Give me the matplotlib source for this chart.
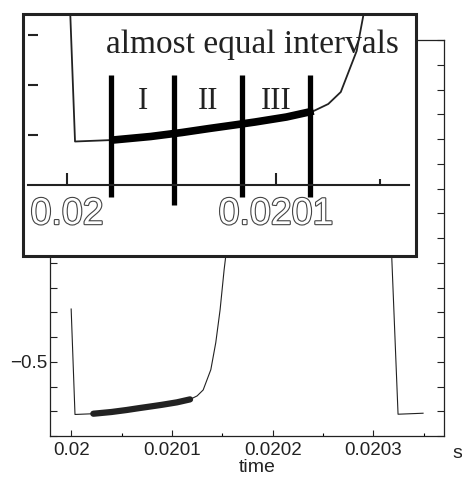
import matplotlib
matplotlib.use("Agg")
import matplotlib.pyplot as plt
import matplotlib.patheffects as pe
import numpy as np
from matplotlib.patches import Rectangle
from matplotlib.ticker import FixedLocator, FuncFormatter

_SANS = ['Liberation Sans', 'DejaVu Sans']
_SERIF = ['Liberation Serif', 'DejaVu Serif']
_INK = '#222222'

# signal (time in s)
time = [0.02, 0.0200038, 0.020022, 0.020040, 0.020055, 0.020068, 0.020080,
        0.020090, 0.020105, 0.020118, 0.020125, 0.020131, 0.0201386,
        0.0201435, 0.0201478, 0.0201518, 0.0201534, 0.020156, 0.020160,
        0.020170, 0.020200, 0.020250, 0.020300, 0.020310, 0.0203244,
        0.0203492]
signal = [-0.287, -0.713, -0.710, -0.703, -0.695, -0.687, -0.680,
          -0.674, -0.664, -0.652, -0.638, -0.614, -0.532,
          -0.423, -0.290, -0.128, -0.074, 0.25, 0.55,
          0.70, 0.73, 0.74, 0.75, 0.75, -0.712,
          -0.708]

# highlighted stretch and its three intervals
thick_start, thick_end = 0.020022, 0.020118
interval_edges = [0.020021, 0.0200512, 0.0200837, 0.0201163]
edge_bottoms = [-0.824, -0.840, -0.824, -0.824]
edge_top = -0.58
interval_names = ['I', 'II', 'III']

main_xticks = [0.02, 0.0201, 0.0202, 0.0203]
main_xticklabels = ['0.02', '0.0201', '0.0202', '0.0203']
inset_xticks = [0.02, 0.0201]
inset_xticklabels = ['0.02', '0.0201']

t = np.array(time)
v = np.array(signal)
mask = (t >= thick_start) & (t <= thick_end)

fig = plt.figure(figsize=(4.62, 4.82), dpi=100)

# main plot
ax = fig.add_axes([50 / 462, 1 - 436 / 482, 394 / 462, 396 / 482])
ax.plot(t, v, color=_INK, lw=0.8)
ax.plot(t[mask], v[mask], color=_INK, lw=4.5, solid_capstyle='round')
ax.set_xlim(0.019979, 0.02037)
ax.set_ylim(-0.8, 0.8)

ax.xaxis.set_major_locator(FixedLocator(main_xticks))
ax.set_xticklabels(main_xticklabels, family=_SANS)
ax.xaxis.set_minor_locator(FixedLocator(np.arange(0.02005, 0.02037, 0.0001)))
ax.yaxis.set_major_locator(FixedLocator(np.round(np.arange(-0.8, 0.81, 0.1), 1)))
ax.yaxis.set_major_formatter(FuncFormatter(
    lambda y, pos: ("%g" % y).replace('-', '\u2212') if abs(y * 2 - round(y * 2)) < 1e-6 else ''))
for lab in ax.get_yticklabels():
    lab.set_family(_SANS)
ax.tick_params(axis='x', which='major', direction='in', length=4.5, width=0.8,
               pad=4, colors=_INK, labelsize=13.5)
ax.tick_params(axis='x', which='minor', direction='in', length=2.2, width=0.8)
ax.tick_params(axis='y', direction='in', length=5, width=0.8, right=True,
               pad=2, colors=_INK, labelsize=13.5)
for s in ax.spines.values():
    s.set_linewidth(0.9)
    s.set_color(_INK)

fig.text(257 / 462, 1 - 467 / 482, 'time', ha='center', va='center',
         family=_SANS, fontsize=14, color=_INK)
fig.text(457 / 462, 1 - 453 / 482, 's', ha='center', va='center',
         family=_SANS, fontsize=14, color=_INK)

# zoomed inset
ins = fig.add_axes([23 / 462, 1 - 256 / 482, 393 / 462, 242 / 482])
ins.set_facecolor('white')
ins.plot(t, v, color=_INK, lw=1.3)
ins.plot(t[mask], v[mask], color='black', lw=5.5, solid_capstyle='butt')
ins.set_xlim(0.0199789, 0.020167)
ins.set_ylim(-0.942, -0.458)

ins.vlines(interval_edges, edge_bottoms, edge_top, color='black', lw=3.8)
for i, name in enumerate(interval_names):
    mid = (interval_edges[i] + interval_edges[i + 1]) / 2
    ins.text(mid, -0.648, name, ha='center', va='baseline',
             family=_SERIF, fontsize=22, color=_INK)
ins.text(0.211, 0.839, 'almost equal intervals', transform=ins.transAxes,
         ha='left', va='baseline', family=_SERIF, fontsize=24, color=_INK)

for side in ['top', 'right', 'left']:
    ins.spines[side].set_visible(False)
ins.spines['bottom'].set_position(('data', -0.8))
ins.spines['bottom'].set_bounds(0.0199813, 0.0201636)
ins.spines['bottom'].set_linewidth(1.5)
ins.spines['bottom'].set_color(_INK)

ins.xaxis.set_major_locator(FixedLocator(inset_xticks))
ins.xaxis.set_minor_locator(FixedLocator([0.02015]))
ins.tick_params(axis='x', which='major', direction='in', length=9, width=1.5,
                pad=8, color=_INK, labelcolor='white', labelsize=27)
ins.tick_params(axis='x', which='minor', direction='in', length=4, width=1.5,
                color=_INK)
ins.set_xticklabels(inset_xticklabels, family=_SANS)
for lab in ins.get_xticklabels():
    lab.set_path_effects([pe.withStroke(linewidth=1.6, foreground='#444444')])
ins.yaxis.set_major_locator(FixedLocator([-0.7, -0.6, -0.5]))
ins.spines['left'].set_position(('axes', 5 / 393))
ins.tick_params(axis='y', direction='in', length=7, width=1.5,
                labelleft=False, color=_INK)

ins.add_patch(Rectangle((0, 0), 1, 1, transform=ins.transAxes, fill=False,
                        lw=2.2, edgecolor=_INK, clip_on=False, zorder=10))

fig.savefig('out.png', dpi=100)
